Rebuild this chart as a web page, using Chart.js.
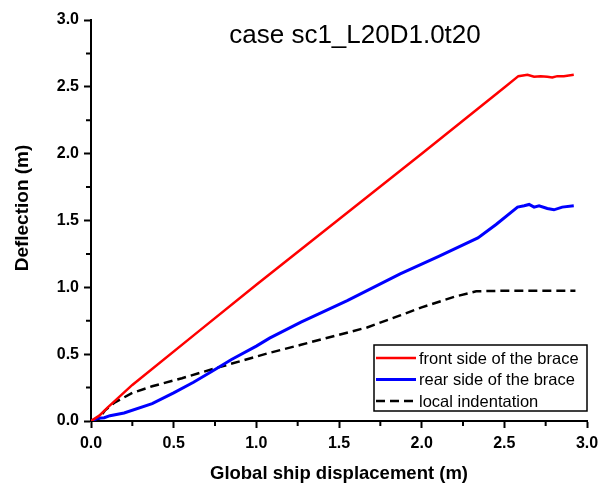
<!DOCTYPE html>
<html>
<head>
<meta charset="utf-8">
<script src="https://cdn.jsdelivr.net/npm/chart.js@4.4.1/dist/chart.umd.min.js"></script>
<style>
  html, body { margin: 0; padding: 0; background: #fff; }
  #wrap { width: 599px; height: 485px; }
</style>
</head>
<body>
<div id="wrap"><canvas id="chart1"></canvas></div>
<script>
"use strict";

var FONT = "'Liberation Sans', Arial, sans-serif";

// front side of the brace
var frontX = [0, 0.05, 0.1, 0.25, 0.66, 1.0, 1.5, 2.0, 2.5, 2.585, 2.64, 2.68, 2.72, 2.76, 2.79, 2.82, 2.86, 2.92];
var frontY = [0, 0.04, 0.1, 0.27, 0.68, 1.02, 1.51, 2.0, 2.495, 2.58, 2.59, 2.575, 2.58, 2.575, 2.57, 2.58, 2.58, 2.59];

// rear side of the brace
var rearX = [0, 0.04, 0.08, 0.115, 0.2, 0.37, 0.5, 0.62, 0.73, 0.85, 1.0, 1.08, 1.27, 1.55, 1.87, 2.1, 2.34, 2.45, 2.58, 2.62, 2.65, 2.68, 2.71, 2.76, 2.8, 2.85, 2.92];
var rearY = [0, 0.02, 0.025, 0.04, 0.06, 0.13, 0.21, 0.29, 0.37, 0.46, 0.56, 0.62, 0.74, 0.90, 1.10, 1.23, 1.37, 1.47, 1.60, 1.61, 1.62, 1.60, 1.61, 1.59, 1.58, 1.60, 1.61];

// local indentation
var localX = [0, 0.05, 0.085, 0.145, 0.25, 0.37, 0.55, 0.74, 1.08, 1.27, 1.39, 1.67, 1.87, 2.0, 2.2, 2.33, 2.5, 2.93];
var localY = [0, 0.02, 0.08, 0.14, 0.21, 0.26, 0.32, 0.39, 0.51, 0.57, 0.61, 0.70, 0.79, 0.85, 0.93, 0.97, 0.975, 0.975];

var seriesNames = ["front side of the brace", "rear side of the brace", "local indentation"];
var titleText = "case sc1_L20D1.0t20";
var xTitle = "Global ship displacement (m)";
var yTitle = "Deflection (m)";

function toPoints(xs, ys) {
  return xs.map(function(x, i) {
    return { x: x, y: ys[i] };
  });
}

// title inside the plot area, and the y axis title (sits a bit above centre)
var titlePlugin = {
  id: "insideTitle",
  afterDraw: function(chart) {
    var ctx = chart.ctx;
    var area = chart.chartArea;
    ctx.save();
    ctx.fillStyle = "#000";
    ctx.font = "26px " + FONT;
    ctx.textAlign = "center";
    ctx.textBaseline = "alphabetic";
    ctx.fillText(titleText, area.left + 264, area.top + 23);

    ctx.translate(area.left - 68, area.top + 188);
    ctx.rotate(-Math.PI / 2);
    ctx.font = "bold 19px " + FONT;
    ctx.textBaseline = "middle";
    ctx.fillText(yTitle, 0, 0);
    ctx.restore();
  }
};

// short minor ticks between the labelled ones
var minorTicks = {
  id: "minorTicks",
  afterDraw: function(chart) {
    var ctx = chart.ctx;
    var xs = chart.scales.x;
    var ys = chart.scales.y;
    ctx.save();
    ctx.strokeStyle = "#000";
    ctx.lineWidth = 2;
    ctx.beginPath();
    for (var v = 0.25; v < 3; v += 0.5) {
      var px = xs.getPixelForValue(v);
      ctx.moveTo(px, xs.top);
      ctx.lineTo(px, xs.top + 5);
      var py = ys.getPixelForValue(v);
      ctx.moveTo(ys.right, py);
      ctx.lineTo(ys.right - 5, py);
    }
    ctx.stroke();
    ctx.restore();
  }
};

// boxed legend at the lower right of the plot
var boxLegend = {
  id: "boxLegend",
  afterDraw: function(chart) {
    var ctx = chart.ctx;
    var area = chart.chartArea;
    var right = area.right;
    var left = right - 213;
    var top = area.bottom - 76;
    var bottom = area.bottom - 10;
    ctx.save();
    ctx.fillStyle = "#fff";
    ctx.fillRect(left, top, right - left, bottom - top);
    ctx.strokeStyle = "#000";
    ctx.lineWidth = 1.5;
    ctx.strokeRect(left, top, right - left, bottom - top);
    ctx.font = "16.5px " + FONT;
    ctx.textBaseline = "middle";
    ctx.textAlign = "left";
    chart.data.datasets.forEach(function(ds, i) {
      var y = top + 13 + i * 21.5;
      ctx.beginPath();
      ctx.strokeStyle = ds.borderColor;
      ctx.lineWidth = ds.borderWidth;
      ctx.setLineDash(ds.borderDash || []);
      ctx.moveTo(left + 2, y);
      ctx.lineTo(left + 42, y);
      ctx.stroke();
      ctx.setLineDash([]);
      ctx.fillStyle = "#000";
      ctx.fillText(ds.label, left + 45, y + 1);
    });
    ctx.restore();
  }
};

var ctx = document.getElementById("chart1");
var myChart = new Chart(ctx, {
  type: "line",
  data: {
    datasets: [
      {
        label: seriesNames[0],
        data: toPoints(frontX, frontY),
        borderColor: "#ff0000",
        borderWidth: 2.5
      },
      {
        label: seriesNames[1],
        data: toPoints(rearX, rearY),
        borderColor: "#0000ff",
        borderWidth: 3
      },
      {
        label: seriesNames[2],
        data: toPoints(localX, localY),
        borderColor: "#000000",
        borderWidth: 2.5,
        borderDash: [9, 5]
      }
    ]
  },
  options: {
    responsive: true,
    maintainAspectRatio: false,
    animation: false,
    elements: {
      point: { radius: 0 },
      line: { tension: 0, fill: false }
    },
    layout: {
      padding: { top: 20, right: 12, left: 0, bottom: 0 }
    },
    plugins: {
      legend: { display: false },
      tooltip: { enabled: false }
    },
    scales: {
      x: {
        type: "linear",
        min: 0,
        max: 3,
        afterFit: function(scale) {
          scale.height = 64;
          scale.paddingLeft = 0;
          scale.paddingRight = 0;
        },
        border: { display: true, color: "#000", width: 2 },
        grid: {
          drawOnChartArea: false,
          tickLength: 7,
          tickWidth: 2,
          tickColor: "#000"
        },
        ticks: {
          stepSize: 0.5,
          padding: 6,
          color: "#000",
          font: { family: FONT, size: 16, weight: "bold" },
          maxRotation: 0,
          callback: function(v) {
            return Number(v).toFixed(1);
          }
        },
        title: {
          display: true,
          text: xTitle,
          color: "#000",
          font: { family: FONT, size: 18.5, weight: "bold" },
          padding: { top: 0, bottom: 0 }
        }
      },
      y: {
        type: "linear",
        min: 0,
        max: 3,
        afterFit: function(scale) {
          scale.width = 91;
          scale.paddingTop = 0;
          scale.paddingBottom = 0;
        },
        border: { display: true, color: "#000", width: 2 },
        grid: {
          drawOnChartArea: false,
          tickLength: 7,
          tickWidth: 2,
          tickColor: "#000"
        },
        ticks: {
          stepSize: 0.5,
          padding: 5,
          color: "#000",
          font: { family: FONT, size: 16, weight: "bold" },
          callback: function(v) {
            return Number(v).toFixed(1);
          }
        }
      }
    }
  },
  plugins: [titlePlugin, minorTicks, boxLegend]
});
</script>
</body>
</html>
